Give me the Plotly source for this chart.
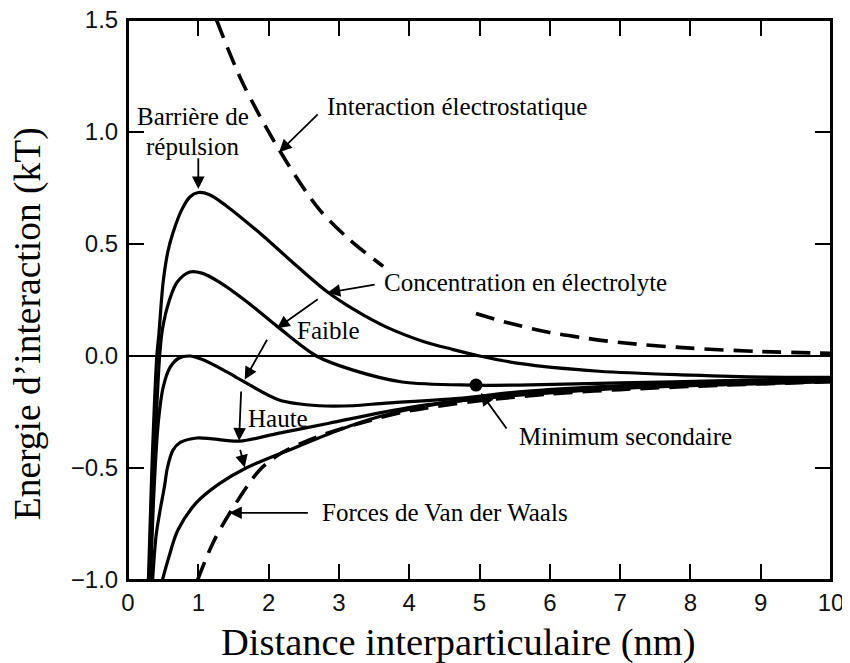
import plotly.graph_objects as go

# ---------------- data ----------------
# Solid curves: total interaction energy for increasing electrolyte concentration
x_c1 = [0.29, 0.34, 0.41, 0.44, 0.50, 0.57, 0.64, 0.76, 0.88, 1.00, 1.16, 1.40, 1.87, 2.30, 2.82, 3.20, 3.67, 4.20, 4.61, 5.00, 5.56, 6.70, 8.00, 9.07, 10.0]
y_c1 = [-1.0, -0.5, 0.0, 0.10, 0.33, 0.47, 0.55, 0.65, 0.71, 0.73, 0.72, 0.67, 0.55, 0.43, 0.29, 0.21, 0.13, 0.065, 0.03, 0.0, -0.033, -0.068, -0.085, -0.094, -0.095]

x_c2 = [0.31, 0.37, 0.45, 0.49, 0.59, 0.70, 0.88, 1.05, 1.30, 1.70, 2.13, 2.68, 3.19, 3.90, 4.90, 5.56, 7.00, 8.50, 10.0]
y_c2 = [-1.0, -0.5, 0.0, 0.12, 0.25, 0.33, 0.375, 0.37, 0.33, 0.24, 0.13, 0.0, -0.062, -0.116, -0.13, -0.13, -0.12, -0.11, -0.10]

x_c3 = [0.32, 0.37, 0.43, 0.50, 0.60, 0.72, 0.88, 1.05, 1.40, 1.68, 2.15, 2.72, 3.20, 3.67, 4.76, 5.56, 7.17, 8.50, 10.0]
y_c3 = [-1.0, -0.6, -0.3, -0.14, -0.05, -0.01, 0.0, -0.015, -0.07, -0.12, -0.196, -0.222, -0.222, -0.21, -0.188, -0.16, -0.13, -0.115, -0.105]

x_c4 = [0.35, 0.40, 0.45, 0.52, 0.56, 0.64, 0.75, 0.98, 1.20, 1.59, 2.15, 2.86, 3.58, 4.20, 5.00, 6.00, 7.20, 8.50, 10.0]
y_c4 = [-1.0, -0.80, -0.70, -0.58, -0.50, -0.42, -0.385, -0.366, -0.37, -0.38, -0.344, -0.30, -0.254, -0.22, -0.19, -0.16, -0.135, -0.12, -0.11]

x_c5 = [0.49, 0.57, 0.71, 0.97, 1.30, 1.68, 2.40, 3.00, 3.58, 4.20, 5.00, 6.00, 7.00, 8.50, 10.0]
y_c5 = [-1.0, -0.91, -0.777, -0.656, -0.57, -0.50, -0.406, -0.33, -0.27, -0.225, -0.19, -0.165, -0.145, -0.128, -0.115]

# Van der Waals attraction (dashed)
x_vdw = [0.99, 1.20, 1.45, 1.87, 2.20, 2.70, 3.30, 4.00, 5.00, 6.00, 7.00, 8.50, 10.0]
y_vdw = [-1.0, -0.84, -0.70, -0.51, -0.43, -0.36, -0.30, -0.245, -0.20, -0.17, -0.15, -0.13, -0.115]

# Electrostatic repulsion (dashed, two visible pieces)
x_elec_a = [1.26, 1.63, 2.18, 2.72, 3.15, 3.63]
y_elec_a = [1.5, 1.22, 0.905, 0.655, 0.52, 0.40]
x_elec_b = [4.95, 5.42, 6.00, 6.50, 7.00, 8.00, 9.00, 10.0]
y_elec_b = [0.19, 0.147, 0.105, 0.08, 0.06, 0.035, 0.02, 0.012]

# Secondary minimum
x_min2 = [4.95]
y_min2 = [-0.13]

x_ticks = [0, 1, 2, 3, 4, 5, 6, 7, 8, 9, 10]
y_ticks = [-1.0, -0.5, 0.0, 0.5, 1.0, 1.5]

# ---------------- figure ----------------
SERIF = "Liberation Serif"
SANS = "Liberation Sans"

fig = go.Figure()

solid = dict(color="black", width=3.2, shape="spline", smoothing=0.9)
for xs, ys in [(x_c1, y_c1), (x_c2, y_c2), (x_c3, y_c3), (x_c4, y_c4), (x_c5, y_c5)]:
    fig.add_trace(go.Scatter(x=xs, y=ys, mode="lines", line=solid, showlegend=False, hoverinfo="skip"))

dashed = dict(color="black", width=3.6, shape="spline", smoothing=0.9, dash="19px,10px")
for xs, ys in [(x_vdw, y_vdw), (x_elec_a, y_elec_a), (x_elec_b, y_elec_b)]:
    fig.add_trace(go.Scatter(x=xs, y=ys, mode="lines", line=dashed, showlegend=False, hoverinfo="skip"))

fig.add_trace(go.Scatter(x=x_min2, y=y_min2, mode="markers",
                         marker=dict(color="black", size=13), showlegend=False, hoverinfo="skip"))

txt_font = dict(family=SERIF, size=25, color="black")

def label(text, x, y, anchor="left"):
    fig.add_annotation(x=x, y=y, text=text, showarrow=False, xanchor=anchor, yanchor="middle",
                       font=txt_font, xref="x", yref="y")

def arrow(x0, y0, x1, y1):
    fig.add_annotation(x=x1, y=y1, ax=x0, ay=y0, xref="x", yref="y", axref="x", ayref="y",
                       text="", showarrow=True, arrowhead=2, arrowsize=1.4, arrowwidth=1.8,
                       arrowcolor="black")

label("Barrière de", 0.93, 1.067, "center")
label("répulsion", 0.93, 0.937, "center")
arrow(1.0, 0.89, 1.0, 0.745)

label("Interaction électrostatique", 2.80, 1.112)
arrow(2.72, 1.085, 2.15, 0.91)

label("Concentration en électrolyte", 3.62, 0.326)
arrow(3.53, 0.32, 2.84, 0.283)

label("Faible", 2.37, 0.116)
arrow(2.72, 0.258, 2.12, 0.124)
arrow(1.99, 0.079, 1.66, -0.105)

label("Haute", 1.68, -0.277)
arrow(1.61, -0.152, 1.58, -0.378)
arrow(1.59, -0.412, 1.66, -0.498)

label("Minimum secondaire", 5.54, -0.36)
arrow(5.40, -0.33, 5.02, -0.165)

label("Forces de Van der Waals", 2.73, -0.70)
arrow(2.58, -0.70, 1.44, -0.70)

axis_common = dict(showline=True, linecolor="black", linewidth=2, mirror="ticks",
                   ticks="inside", ticklen=16, tickwidth=2, tickcolor="black",
                   showgrid=False, automargin=False, ticklabeloverflow="allow",
                   tickfont=dict(family=SANS, size=24, color="#111"))

fig.update_xaxes(range=[0, 10], tickvals=x_ticks, ticktext=[str(v) for v in x_ticks],
                 zeroline=False, **axis_common)
fig.update_yaxes(range=[-1.0, 1.5], tickvals=y_ticks, tickformat=".1f",
                 zeroline=True, zerolinecolor="black", zerolinewidth=1.6,
                 ticklabelstandoff=3, **axis_common)

# plot frame
fig.add_shape(type="rect", xref="paper", yref="paper", x0=0, x1=1, y0=0, y1=1,
              line=dict(color="black", width=2), layer="above")

fig.add_annotation(text="Distance interparticulaire (nm)", xref="paper", yref="paper",
                   x=0.47, y=-0.112, xanchor="center", yanchor="middle", showarrow=False,
                   font=dict(family=SERIF, size=38.5, color="black"))
fig.add_annotation(text="Energie d’interaction (kT)", xref="paper", yref="paper",
                   x=-0.142, y=0.457, xanchor="center", yanchor="middle", textangle=-90,
                   showarrow=False, font=dict(family=SERIF, size=37.5, color="black"))

# The page body adds an 8px offset, so the figure is sized to fit the 850x663 window.
fig.update_layout(width=842, height=655, plot_bgcolor="white", paper_bgcolor="white",
                  margin=dict(l=120, r=19, t=12, b=83), showlegend=False)

fig.write_html("out.html")
